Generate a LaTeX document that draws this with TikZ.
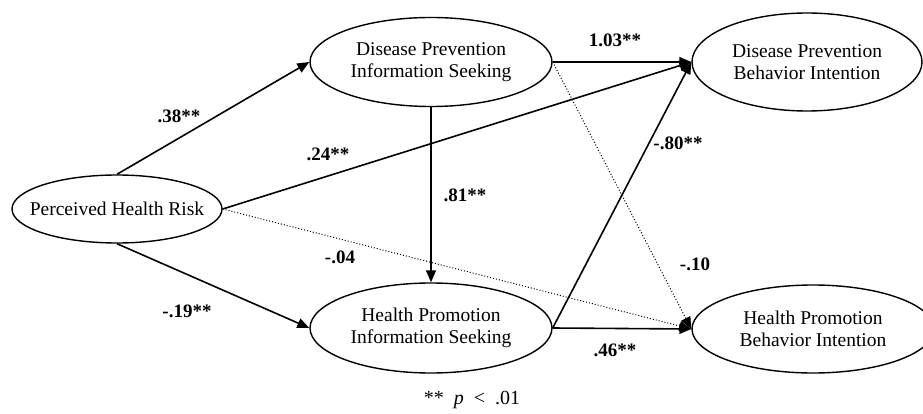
\documentclass[tikz,border=0pt]{standalone}
\usepackage{fontspec}
\setmainfont{Liberation Serif}
\usepackage{tikz}
\usetikzlibrary{arrows.meta,shapes.geometric}

\begin{document}
\begin{tikzpicture}[
  x=1pt,y=-1pt,
  latent/.style={draw, ellipse, line width=1.4pt, align=center, inner sep=0pt, font=\fontsize{19.5}{22}\selectfont},
  arr/.style={-{Triangle[length=12pt,width=10pt]}, line width=1.6pt},
  dotarr/.style={-{Triangle[length=12pt,width=10pt]}, dotted, line width=1pt},
  coef/.style={font=\fontsize{19}{22}\selectfont\bfseries, inner sep=1pt}
]
\useasboundingbox (0,0) rectangle (923,414);
\node[latent, inner xsep=-13pt, minimum width=210pt, minimum height=68pt] (risk) at (117,209) {Perceived Health Risk};
\node[latent, minimum width=242pt, minimum height=89pt] (dpseek) at (431,62) {Disease Prevention\\Information Seeking};
\node[latent, minimum width=242pt, minimum height=90pt] (hpseek) at (431,328) {Health Promotion\\Information Seeking};
\node[latent, minimum width=230pt, minimum height=98pt] (dpintent) at (807,62) {Disease Prevention\\Behavior Intention};
\node[latent, minimum width=242pt, minimum height=88pt] (hpintent) at (813,329) {Health Promotion\\Behavior Intention};
\draw[arr] (risk.north) -- (dpseek.west); \draw[arr] (risk.south) -- (hpseek.west); \draw[arr] (risk.east) -- (dpintent.west); \draw[dotarr] (risk.east) -- (hpintent.west);
\draw[arr] (dpseek.south) -- (hpseek.north); \draw[arr] (dpseek.east) -- (dpintent.west); \draw[dotarr] (dpseek.east) -- (hpintent.west);
\draw[arr] (hpseek.east) -- (dpintent.west); \draw[arr] (hpseek.east) -- (hpintent.west);
\node[coef] (c-risk-dps) at (179,116) {.38**};
\node[coef] (c-risk-dpi) at (328,154) {.24**};
\node[coef] (c-dps-dpi) at (615,40) {1.03**};
\node[coef] (c-dps-hps) at (465,195) {.81**};
\node[coef] (c-hps-dpi) at (678,143) {-.80**};
\node[coef] (c-risk-hpi) at (340,257) {-.04};
\node[coef] (c-risk-hps) at (187,311) {-.19**};
\node[coef] (c-dps-hpi) at (695,264) {-.10};
\node[coef] (c-hps-hpi) at (615,350) {.46**};
\node[font=\fontsize{20}{22}\selectfont] (note) at (472,400) {**\hspace{10pt}\textit{p}\hspace{10pt}<\hspace{10pt}.01};
\end{tikzpicture}
\end{document}
